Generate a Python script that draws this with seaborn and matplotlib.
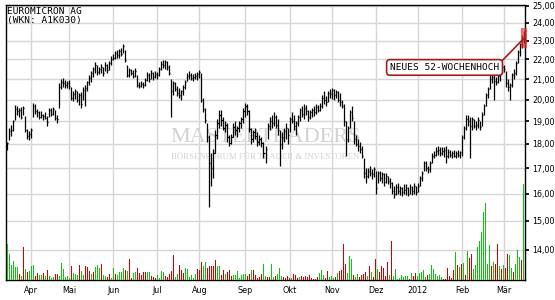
import numpy as np
import pandas as pd
import matplotlib
matplotlib.use("Agg")
import matplotlib.pyplot as plt
import seaborn as sns
from matplotlib.ticker import FixedLocator, FuncFormatter, NullLocator
from matplotlib.patches import Rectangle

# ---------------- data ----------------
title_name = "EUROMICRON AG"
title_wkn = "(WKN: A1K030)"
annotation_text = "NEUES 52-WOCHENHOCH"
watermark_main = "MASTERTRADERS"
watermark_sub = "BÖRSENFORUM FÜR TRADER & INVESTOREN"
month_labels = ["Apr", "Mai", "Jun", "Jul", "Aug", "Sep", "Okt", "Nov", "Dez", "2012", "Feb", "Mär"]
price_ticks = [14, 15, 16, 17, 18, 19, 20, 21, 22, 23, 24, 25]

start_date = "2011-03-16"
end_date = "2012-03-15"
exchange_holidays = ["2011-04-22", "2011-04-25", "2011-12-26"]

lows = [
    17.75, 18.15, 18.35, 18.55, 19.05, 19.30, 19.20, 19.10, 19.30, 18.50,
    18.20, 18.15, 18.25, 19.20, 19.35, 19.20, 19.10, 19.15, 19.05, 19.10,
    18.80, 19.20, 19.25, 19.30, 19.05, 18.90, 19.60, 20.50, 20.60, 20.55,
    20.55, 20.50, 20.00, 19.95, 20.05, 19.90, 19.75, 19.60, 20.00, 19.70,
    20.40, 20.70, 20.85, 21.10, 21.30, 21.20, 21.25, 21.30, 21.15, 21.40,
    21.30, 21.45, 21.70, 21.95, 22.00, 22.10, 22.10, 22.20, 22.35, 21.85,
    21.10, 21.10, 21.20, 21.05, 21.10, 20.60, 20.55, 20.60, 20.55, 20.65,
    20.90, 20.85, 21.00, 20.95, 21.05, 21.00, 21.15, 21.45, 21.55, 21.50,
    21.45, 21.20, 19.20, 20.20, 20.40, 20.15, 20.10, 20.00, 20.20, 20.50,
    20.90, 21.00, 20.95, 20.90, 21.00, 20.95, 21.05, 19.90, 19.40, 18.90,
    18.10, 15.50, 16.30, 16.60, 17.60, 18.20, 18.70, 18.80, 18.60, 18.50,
    18.10, 17.90, 18.00, 18.30, 18.40, 18.30, 18.50, 18.70, 18.90, 19.20,
    19.30, 18.50, 18.00, 18.10, 18.20, 17.90, 17.95, 17.85, 17.40, 17.20,
    18.20, 18.60, 18.70, 18.80, 18.70, 18.40, 17.10, 17.80, 18.10, 18.20,
    18.00, 18.50, 18.90, 18.60, 18.40, 18.80, 19.00, 19.20, 19.10, 19.30,
    19.00, 19.10, 19.20, 19.25, 19.35, 19.40, 19.45, 19.60, 19.80, 19.70,
    19.90, 20.10, 20.05, 20.00, 20.10, 19.90, 19.70, 19.60, 18.80, 17.50,
    18.10, 18.70, 19.00, 18.00, 17.90, 17.70, 17.60, 17.40, 16.60, 16.40,
    16.60, 16.70, 16.55, 16.65, 16.00, 16.40, 16.50, 16.40, 16.30, 16.40,
    16.35, 16.20, 16.00, 15.85, 15.95, 16.00, 15.95, 15.90, 16.00,
    15.95, 15.90, 16.00, 15.95, 16.00, 15.95, 16.05, 16.30, 16.50, 16.90,
    16.90, 16.80, 16.85, 17.20, 17.40, 17.50, 17.55, 17.50, 17.55, 17.45,
    17.20, 17.40, 17.45, 17.40, 17.45, 17.40, 17.45, 17.40, 17.50, 18.20,
    18.60, 18.80, 17.40, 18.60, 18.70, 18.60, 18.70, 18.60, 18.80, 19.30,
    19.70, 20.10, 20.50, 20.80, 20.00, 20.70, 20.80, 20.90, 21.30, 21.35,
    20.60, 20.40, 20.00, 20.60, 21.00, 21.20, 21.80, 22.20, 22.60, 22.90,
]
highs = [
    18.10, 18.70, 18.85, 19.05, 19.75, 19.70, 19.60, 19.65, 19.70, 19.25,
    18.65, 18.55, 18.70, 19.85, 19.80, 19.55, 19.45, 19.45, 19.35, 19.40,
    19.25, 19.60, 19.60, 19.65, 19.50, 19.30, 20.80, 21.00, 21.05, 20.95,
    20.90, 20.95, 20.60, 20.40, 20.50, 20.40, 20.30, 20.35, 20.60, 20.70,
    20.90, 21.20, 21.40, 21.60, 21.85, 21.70, 21.60, 21.75, 21.60, 21.85,
    21.75, 21.90, 22.20, 22.30, 22.45, 22.50, 22.55, 22.60, 22.85, 22.50,
    21.70, 21.55, 21.50, 21.45, 21.55, 21.20, 20.85, 20.90, 20.85, 21.05,
    21.35, 21.30, 21.45, 21.35, 21.40, 21.35, 21.60, 21.90, 21.95, 21.95,
    21.90, 21.70, 21.00, 20.90, 20.85, 20.65, 20.55, 20.45, 20.70, 20.95,
    21.30, 21.40, 21.30, 21.25, 21.30, 21.35, 21.45, 21.30, 20.10, 19.60,
    18.90, 18.40, 17.60, 17.80, 18.60, 19.10, 19.50, 19.50, 19.20, 19.00,
    18.90, 18.40, 18.45, 18.90, 19.00, 18.80, 19.00, 19.20, 19.60, 19.85,
    19.80, 19.50, 18.70, 18.60, 18.70, 18.50, 18.40, 18.30, 18.10, 17.90,
    18.90, 19.20, 19.30, 19.40, 19.30, 19.10, 18.60, 18.50, 18.70, 18.90,
    18.70, 19.20, 19.40, 19.30, 19.00, 19.30, 19.60, 19.70, 19.80, 19.75,
    19.50, 19.50, 19.60, 19.70, 19.80, 19.75, 19.85, 20.20, 20.40, 20.15,
    20.40, 20.50, 20.55, 20.50, 20.45, 20.40, 20.30, 20.00, 19.80, 19.00,
    18.80, 19.50, 19.70, 19.00, 18.40, 18.20, 18.10, 17.90, 17.40, 17.00,
    17.00, 17.10, 16.95, 17.05, 16.90, 16.90, 16.90, 16.85, 16.80, 16.80,
    16.70, 16.60, 16.45, 16.30, 16.35, 16.40, 16.30, 16.25, 16.35,
    16.35, 16.25, 16.35, 16.30, 16.40, 16.30, 16.40, 16.70, 16.90, 17.30,
    17.30, 17.10, 17.30, 17.60, 17.70, 17.85, 17.90, 17.85, 17.85, 17.85,
    17.90, 17.80, 17.75, 17.70, 17.75, 17.70, 17.75, 17.70, 18.40, 18.80,
    19.30, 19.30, 19.20, 19.20, 19.10, 19.00, 19.20, 19.00, 19.40, 19.80,
    20.30, 20.60, 21.20, 21.30, 21.20, 21.10, 21.30, 21.40, 21.75, 21.70,
    21.40, 21.00, 20.80, 21.30, 21.50, 21.90, 22.50, 22.90, 23.30, 23.55,
]
closes = [
    18.05, 18.55, 18.60, 19.00, 19.55, 19.45, 19.50, 19.20, 19.60, 18.60,
    18.35, 18.45, 18.60, 19.70, 19.45, 19.40, 19.20, 19.30, 19.25, 19.15,
    18.95, 19.50, 19.35, 19.55, 19.15, 19.10, 20.60, 20.85, 20.80, 20.70,
    20.80, 20.65, 20.10, 20.25, 20.40, 20.00, 20.20, 19.80, 20.45, 20.55,
    20.85, 21.05, 21.30, 21.50, 21.70, 21.35, 21.50, 21.60, 21.30, 21.70,
    21.45, 21.80, 22.05, 22.10, 22.35, 22.25, 22.45, 22.30, 22.70, 21.95,
    21.20, 21.45, 21.30, 21.15, 21.40, 20.70, 20.65, 20.75, 20.70, 20.95,
    21.20, 21.00, 21.30, 21.10, 21.25, 21.20, 21.50, 21.75, 21.70, 21.85,
    21.60, 21.30, 20.40, 20.80, 20.50, 20.30, 20.20, 20.40, 20.60, 20.85,
    21.15, 21.20, 21.05, 21.10, 21.15, 21.25, 21.35, 20.00, 19.55, 19.05,
    18.30, 17.20, 17.00, 17.60, 18.40, 18.90, 19.30, 19.05, 18.70, 18.85,
    18.30, 18.05, 18.30, 18.75, 18.60, 18.70, 18.90, 19.10, 19.45, 19.70,
    19.45, 18.65, 18.20, 18.50, 18.35, 18.10, 18.20, 18.05, 17.60, 17.80,
    18.80, 19.00, 18.90, 19.20, 18.85, 18.60, 18.00, 18.30, 18.55, 18.70,
    18.40, 19.10, 19.00, 18.80, 18.90, 19.20, 19.50, 19.35, 19.60, 19.45,
    19.20, 19.40, 19.50, 19.40, 19.65, 19.50, 19.70, 20.10, 20.00, 19.90,
    20.30, 20.25, 20.45, 20.20, 20.35, 20.00, 19.90, 19.70, 19.00, 18.20,
    18.70, 19.40, 19.15, 18.20, 18.00, 17.90, 17.80, 17.50, 16.80, 16.70,
    16.90, 16.80, 16.75, 16.95, 16.20, 16.80, 16.60, 16.75, 16.45, 16.70,
    16.50, 16.40, 16.10, 16.00, 16.25, 16.10, 16.20, 16.05, 16.15,
    16.20, 16.00, 16.25, 16.10, 16.30, 16.05, 16.30, 16.60, 16.80, 17.20,
    17.00, 16.95, 17.20, 17.50, 17.55, 17.70, 17.75, 17.60, 17.70, 17.75,
    17.50, 17.65, 17.55, 17.60, 17.50, 17.60, 17.55, 17.65, 18.30, 18.70,
    19.10, 19.00, 18.80, 19.10, 18.80, 18.85, 19.05, 18.75, 19.30, 19.70,
    20.20, 20.50, 21.00, 21.10, 20.90, 20.85, 21.15, 21.30, 21.60, 21.50,
    20.80, 20.60, 20.70, 21.20, 21.30, 21.80, 22.40, 22.80, 23.10, 23.40,
]
volumes = [
    36, 26, 15, 19, 13, 13, 6, 4, 33, 11,
    8, 9, 14, 15, 4, 7, 5, 5, 7, 4,
    10, 4, 2, 3, 6, 6, 4, 17, 11, 3,
    4, 2, 14, 7, 6, 5, 15, 9, 5, 14,
    13, 9, 6, 8, 13, 15, 12, 16, 5, 4,
    3, 6, 2, 12, 6, 5, 8, 8, 12, 10,
    9, 21, 2, 7, 8, 12, 7, 5, 8, 8,
    8, 8, 4, 3, 2, 5, 2, 9, 8, 4,
    3, 6, 9, 25, 3, 6, 15, 10, 7, 12,
    11, 3, 5, 2, 6, 11, 10, 18, 14, 18,
    12, 14, 14, 14, 20, 14, 14, 5, 10, 6,
    8, 10, 4, 5, 5, 9, 2, 5, 6, 6,
    4, 6, 10, 10, 5, 2, 3, 6, 16, 4,
    3, 3, 16, 3, 4, 6, 12, 4, 3, 2,
    4, 2, 2, 6, 5, 2, 3, 4, 3, 4,
    3, 5, 2, 1, 1, 3, 7, 10, 5, 2,
    9, 3, 4, 2, 3, 7, 9, 10, 36, 16,
    7, 24, 21, 5, 3, 6, 3, 5, 6, 8,
    4, 14,
    8, 3, 21, 11, 8, 14, 12, 4, 18, 5,
    39, 4, 11, 1, 2, 5, 3, 4, 4, 1,
    7, 4, 7, 4, 7, 8, 10, 3, 5, 6,
    15, 11, 6, 4, 5, 3, 1, 1, 12, 4,
    2, 10, 28, 15, 13, 16, 17, 5, 29, 22,
    26, 11, 15, 33, 39, 48, 68, 77, 16, 35,
    14, 18, 16, 36, 14, 11, 15, 12, 26, 25,
    12, 8, 16, 30, 23, 20, 96,
]
volume_direction = (
    "ggggggrgrg" "rgggrrggrg" "rgggrrgggg" "ggrgggrggr" "rrgrgggrgg"
    "rrggrggggr" "grrggrrrrr" "ggrrrggggr" "rrrrggrrrg"
    "gggggrrrgg" "rrrrrggrrg" "rrrggggggg" "rrgrrrrrgg" "rrggrgggrr"
    "rrgrrrgrrr" "rrrrrrgggr" "rgggrgrrrr" "gggrggrrrr" "gr"
    "grrgrrrrrg" "rggggggggr" "grrgggggrg" "ggggggrrrr" "rrgrgrgrgr"
    "rggggggggg" "rgrrgrgrrg" "grgggrg"
)

# ---------------- derived ----------------
n = len(closes)
idx = np.arange(n)
dates = pd.bdate_range(start_date, end_date, freq="C", holidays=exchange_holidays)[:n]
periods = dates.to_period("M")
month_starts = [i for i in range(1, n) if periods[i] != periods[i - 1]]

vol_dirs = list(volume_direction)[:n]
vol_dirs += ["g"] * (n - len(vol_dirs))
vol_df = pd.DataFrame({
    "i": idx,
    "volume": volumes[:n],
    "dir": ["up" if d == "g" else "down" for d in vol_dirs],
})

# ---------------- style ----------------
sns.set_theme(style="white")
plt.rcParams["font.family"] = ["DejaVu Sans"]

GREEN = "#10c010"
RED = "#d00000"
GRID = "#d6d6d6"
DARKRED = "#a51c1c"

fig = plt.figure(figsize=(5.55, 3.0), dpi=100)
rect = [6 / 555, 20 / 300, 519 / 555, 275 / 300]
ax = fig.add_axes(rect)
axv = fig.add_axes(rect)
axv.patch.set_alpha(0)

# watermark
ax.text(0.50, 0.52, watermark_main, transform=ax.transAxes, ha="center", va="center",
        fontsize=16, family="Liberation Serif", color="#d2d2d2", zorder=0.5)
ax.text(0.50, 0.447, watermark_sub, transform=ax.transAxes, ha="center", va="center",
        fontsize=6.3, family="Liberation Serif", color="#d2d2d2", zorder=0.5)

# price bars
ax.vlines(idx, lows, highs, color="black", lw=0.9, zorder=3)
ax.hlines(closes, idx, idx + 0.55, color="black", lw=0.9, zorder=3)

ax.set_yscale("log")
ax.set_ylim(13.03, 25.04)
ax.yaxis.set_major_locator(FixedLocator(price_ticks))
ax.yaxis.set_minor_locator(NullLocator())
ax.yaxis.set_major_formatter(FuncFormatter(lambda v, p: f"{v:.2f}".replace(".", ",")))
ax.yaxis.tick_right()
ax.set_xlim(-0.5, n - 0.5)
ax.set_xticks(month_starts)
ax.set_xticklabels(month_labels[:len(month_starts)])
ax.grid(True, color=GRID, lw=1.0, zorder=0)
ax.set_axisbelow(True)
ax.tick_params(axis="x", length=0, pad=4, labelsize=5.8, colors="black")
ax.tick_params(axis="y", which="major", length=3, direction="out", pad=2,
               labelsize=5.8, colors="black", right=True, left=False)
for s in ax.spines.values():
    s.set_visible(True)
    s.set_color("black")
    s.set_linewidth(1.0)

# volume bars: one weighted bin per trading day
sns.histplot(data=vol_df, x="i", weights="volume", hue="dir", discrete=True, shrink=0.5,
             multiple="layer", element="bars", palette={"up": GREEN, "down": RED},
             hue_order=["up", "down"], alpha=1, linewidth=0, legend=False, ax=axv)
for p in axv.patches:
    p.set_antialiased(False)
axv.set_xlim(-0.5, n - 0.5)
axv.set_ylim(0, 275)
axv.axis("off")

# titles
fig.text(7 / 555, 1 - 11.5 / 300, title_name, ha="left", va="center",
         family="DejaVu Sans Mono", fontsize=6.8, color="black")
fig.text(7 / 555, 1 - 20.8 / 300, title_wkn, ha="left", va="center",
         family="DejaVu Sans Mono", fontsize=6.8, color="black")

# 52-week-high highlight
hl_lo = min(lows[-2:])
hl_hi = max(highs[-2:]) * 1.006
ax.add_patch(Rectangle((n - 2.5, hl_lo), 3.0, hl_hi - hl_lo, facecolor="#ee3030",
                       edgecolor="none", alpha=0.7, zorder=4, clip_on=False))
mid = np.sqrt(hl_lo * hl_hi)
ax.annotate(annotation_text, xy=(n - 1, mid), xytext=(0.845, 0.773), textcoords="axes fraction",
            ha="center", va="center", family="DejaVu Sans Mono", fontsize=6.8, color="black",
            bbox=dict(boxstyle="round,pad=0.35,rounding_size=0.35", fc="white", ec=DARKRED, lw=1.2),
            arrowprops=dict(arrowstyle="-", color=DARKRED, lw=1.2, shrinkA=0, shrinkB=0,
                            relpos=(1.0, 0.9)),
            zorder=6)

fig.savefig("out.png", dpi=100)
